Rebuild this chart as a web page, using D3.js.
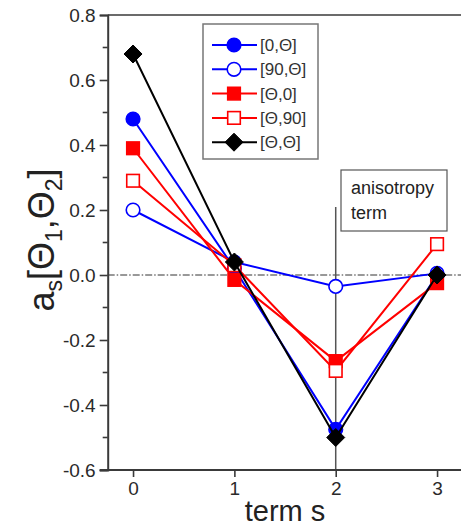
<!DOCTYPE html>
<html>
<head>
<meta charset="utf-8">
<script src="https://cdn.jsdelivr.net/npm/d3@7"></script>
<style>
  html, body { margin: 0; padding: 0; background: #fff; }
  svg { display: block; }
  text { font-family: "Liberation Sans", Arial, sans-serif; }
</style>
</head>
<body>
<svg id="chart" width="461" height="528"></svg>
<script>
// Expansion terms s and the coefficient a_s for each angle pairing
const terms = [0, 1, 2, 3];
const seriesNames = ["[0,\u0398]", "[90,\u0398]", "[\u0398,0]", "[\u0398,90]", "[\u0398,\u0398]"];
const s0Theta   = [0.48, 0.02, -0.475, 0.0];
const s90Theta  = [0.20, 0.04, -0.035, 0.005];
const sTheta0   = [0.39, -0.015, -0.265, -0.025];
const sTheta90  = [0.29, 0.03, -0.295, 0.095];
const sThetaTh  = [0.68, 0.04, -0.50, 0.0];
const yTicks = [0.8, 0.6, 0.4, 0.2, 0.0, -0.2, -0.4, -0.6];
const xTicks = [0, 1, 2, 3];

const series = [
  { name: seriesNames[0], values: s0Theta,  color: "#0000ff", shape: "circle",  filled: true },
  { name: seriesNames[1], values: s90Theta, color: "#0000ff", shape: "circle",  filled: false },
  { name: seriesNames[2], values: sTheta0,  color: "#ff0000", shape: "square",  filled: true },
  { name: seriesNames[3], values: sTheta90, color: "#ff0000", shape: "square",  filled: false },
  { name: seriesNames[4], values: sThetaTh, color: "#000000", shape: "diamond", filled: true }
];

const svg = d3.select("#chart");
const x = d3.scaleLinear().domain([-0.25, 3.25]).range([107.7, 462.4]);
const y = d3.scaleLinear().domain([-0.6, 0.8]).range([470, 15]);
const axisColor = "#3a3a3a";
const labelColor = "#2a2a2a";

// Zero reference line (dash-dot)
svg.append("line")
  .attr("x1", x(-0.25)).attr("x2", 461)
  .attr("y1", y(0)).attr("y2", y(0))
  .attr("stroke", "#333").attr("stroke-width", 1)
  .attr("stroke-dasharray", "7,2,1.5,2");

// Marker for the anisotropy term
svg.append("line")
  .attr("x1", x(2)).attr("x2", x(2))
  .attr("y1", 207).attr("y2", y(-0.6))
  .attr("stroke", "#555").attr("stroke-width", 1.5);

// Top frame line
svg.append("line").attr("x1", x(-0.25)).attr("x2", 461).attr("y1", y(0.8)).attr("y2", y(0.8))
  .attr("stroke", axisColor).attr("stroke-width", 1.6);

// Left axis with major and minor ticks
const yAxis = d3.axisLeft(y).tickValues(yTicks).tickSize(8).tickPadding(4)
  .tickFormat(d3.format(".1f"));
const gy = svg.append("g").attr("transform", `translate(${x(-0.25)},0)`).call(yAxis);
gy.select(".domain").attr("stroke", axisColor).attr("stroke-width", 2);
gy.selectAll(".tick line").attr("stroke", axisColor).attr("stroke-width", 1.6);
gy.selectAll(".tick text").attr("font-size", 19).attr("fill", labelColor)
  .attr("font-family", "Liberation Sans, Arial, sans-serif")
  .text(d => d3.format(".1f")(d).replace("\u2212", "-"));
const yMinor = d3.range(-0.5, 0.8, 0.2);
svg.append("g").selectAll("line").data(yMinor).join("line")
  .attr("x1", x(-0.25) - 5).attr("x2", x(-0.25))
  .attr("y1", d => y(d)).attr("y2", d => y(d))
  .attr("stroke", axisColor).attr("stroke-width", 1.6);

// Bottom axis
const xAxis = d3.axisBottom(x).tickValues(xTicks).tickSize(7).tickPadding(5)
  .tickFormat(d3.format("d"));
const gx = svg.append("g").attr("transform", `translate(0,${y(-0.6)})`).call(xAxis);
gx.select(".domain").remove();
gx.selectAll(".tick line").attr("stroke", axisColor).attr("stroke-width", 1.6);
gx.selectAll(".tick text").attr("font-size", 19).attr("fill", labelColor)
  .attr("font-family", "Liberation Sans, Arial, sans-serif");
svg.append("line").attr("x1", x(-0.25) - 8).attr("x2", 461)
  .attr("y1", y(-0.6)).attr("y2", y(-0.6))
  .attr("stroke", axisColor).attr("stroke-width", 2);

// Symbol drawing
function drawSymbol(g, shape, cx, cy, color, filled) {
  const fill = filled ? color : "#fff";
  if (shape === "circle") {
    g.append("circle").attr("cx", cx).attr("cy", cy).attr("r", 6.8)
      .attr("fill", fill).attr("stroke", color).attr("stroke-width", 1.6);
  } else if (shape === "square") {
    const h = 6.3;
    g.append("rect").attr("x", cx - h).attr("y", cy - h).attr("width", 2 * h).attr("height", 2 * h)
      .attr("fill", fill).attr("stroke", color).attr("stroke-width", 1.6);
  } else {
    const h = 9;
    g.append("path")
      .attr("d", `M${cx},${cy - h}L${cx + h},${cy}L${cx},${cy + h}L${cx - h},${cy}Z`)
      .attr("fill", fill).attr("stroke", color).attr("stroke-width", 1);
  }
}

const line = d3.line().x((d, i) => x(terms[i])).y(d => y(d));
series.forEach(s => {
  const g = svg.append("g");
  g.append("path").datum(s.values).attr("d", line)
    .attr("fill", "none").attr("stroke", s.color).attr("stroke-width", 2);
  s.values.forEach((v, i) => drawSymbol(g, s.shape, x(terms[i]), y(v), s.color, s.filled));
});

// Legend
const lg = svg.append("g");
lg.append("rect").attr("x", 203).attr("y", 24).attr("width", 115).attr("height", 135)
  .attr("fill", "#fff").attr("stroke", "#777").attr("stroke-width", 1.5);
series.forEach((s, i) => {
  const cy = 45 + i * 24.3;
  lg.append("line").attr("x1", 212).attr("x2", 257).attr("y1", cy).attr("y2", cy)
    .attr("stroke", s.color).attr("stroke-width", 2);
  drawSymbol(lg, s.shape, 234, cy, s.color, s.filled);
  lg.append("text").attr("x", 260).attr("y", cy + 6).attr("font-size", 17).attr("fill", "#333")
    .text(s.name);
});

// Annotation box
const ab = svg.append("g");
ab.append("rect").attr("x", 341).attr("y", 170).attr("width", 106).attr("height", 61)
  .attr("fill", "#fff").attr("stroke", "#555").attr("stroke-width", 1.2);
ab.append("text").attr("x", 351).attr("y", 194).attr("font-size", 18).attr("fill", "#222").text("anisotropy");
ab.append("text").attr("x", 351).attr("y", 219).attr("font-size", 18).attr("fill", "#222").text("term");

// Axis titles
svg.append("text").attr("x", 285).attr("y", 521).attr("text-anchor", "middle")
  .attr("font-size", 29).attr("fill", "#222").text("term s");

const yt = svg.append("text").attr("transform", "translate(54,240) rotate(-90)")
  .attr("text-anchor", "middle").attr("font-size", 36).attr("fill", "#222");
yt.append("tspan").text("a");
yt.append("tspan").attr("font-size", 23).attr("dy", 8).text("s");
yt.append("tspan").attr("dy", -8).text("[\u0398");
yt.append("tspan").attr("font-size", 23).attr("dy", 8).text("1");
yt.append("tspan").attr("dy", -8).text(",\u0398");
yt.append("tspan").attr("font-size", 23).attr("dy", 8).text("2");
yt.append("tspan").attr("dy", -8).text("]");
</script>
</body>
</html>
